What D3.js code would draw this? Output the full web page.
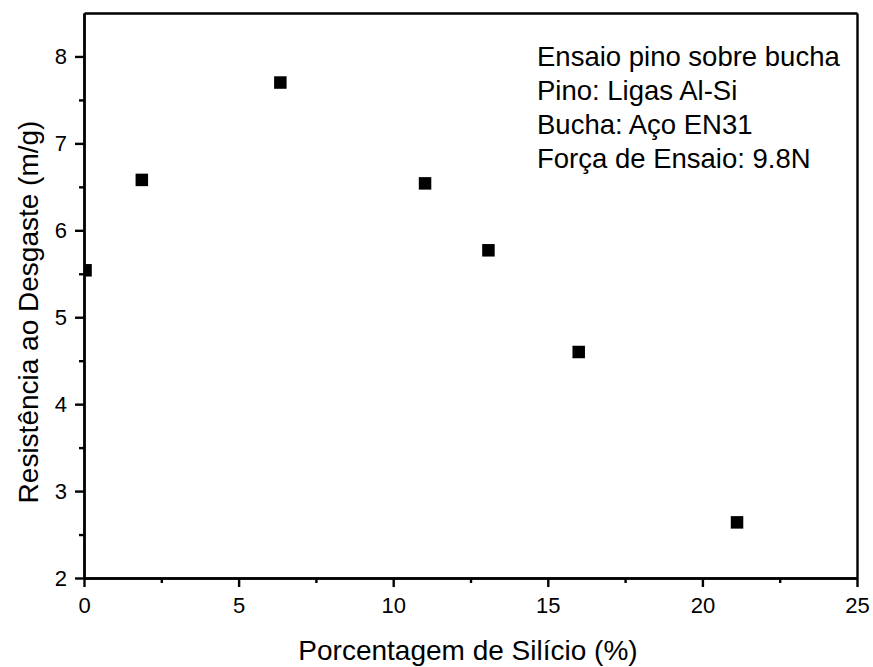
<!DOCTYPE html>
<html>
<head>
<meta charset="utf-8">
<script src="https://cdn.jsdelivr.net/npm/d3@7"></script>
<style>
  html, body { margin: 0; padding: 0; background: #fff; }
  svg { display: block; font-family: Arial, "Liberation Sans", sans-serif; }
</style>
</head>
<body>
<svg id="chart" width="873" height="667"></svg>
<script>
// Silicon content (%) of each Al-Si alloy and its measured wear resistance (m/g)
const siliconPct = [0.05, 1.87, 6.35, 11.03, 13.08, 16.0, 21.12];
const wearResistance = [5.54, 6.58, 7.70, 6.54, 5.77, 4.60, 2.64];

const xTicks = [0, 5, 10, 15, 20, 25];
const xMinorTicks = [2.5, 7.5, 12.5, 17.5, 22.5];
const yTicks = [2, 3, 4, 5, 6, 7, 8];
const yMinorTicks = [2.5, 3.5, 4.5, 5.5, 6.5, 7.5];

const noteLines = [
  "Ensaio pino sobre bucha",
  "Pino: Ligas Al-Si",
  "Bucha: Aço EN31",
  "Força de Ensaio: 9.8N"
];

const xTitle = "Porcentagem de Silício (%)";
const yTitle = "Resistência ao Desgaste (m/g)";

const svg = d3.select("#chart");
const plot = { left: 84, right: 857, top: 13, bottom: 578 };

const x = d3.scaleLinear().domain([0, 25]).range([plot.left, plot.right]);
const y = d3.scaleLinear().domain([2, 8.5]).range([plot.bottom, plot.top]);

const axisStroke = 2.4;

// clip so markers sitting on the axis are cut at the frame
svg.append("defs").append("clipPath").attr("id", "plot-clip")
  .append("rect")
  .attr("x", plot.left).attr("y", plot.top)
  .attr("width", plot.right - plot.left).attr("height", plot.bottom - plot.top);

// markers
const size = 12.5;
svg.append("g").attr("clip-path", "url(#plot-clip)")
  .selectAll("rect")
  .data(siliconPct.map((v, i) => ({ x: v, y: wearResistance[i] })))
  .join("rect")
  .attr("x", d => x(d.x) - size / 2)
  .attr("y", d => y(d.y) - size / 2)
  .attr("width", size)
  .attr("height", size)
  .attr("fill", "#000");

function styleAxis(g) {
  g.select(".domain").attr("stroke", "#000").attr("stroke-width", axisStroke);
  g.selectAll(".tick line").attr("stroke", "#000").attr("stroke-width", axisStroke);
  g.selectAll(".tick text").attr("fill", "#000");
}

// bottom axis: minor then major ticks
svg.append("g")
  .attr("transform", `translate(0,${plot.bottom})`)
  .call(d3.axisBottom(x).tickValues(xMinorTicks).tickSize(5).tickFormat("").tickSizeOuter(0))
  .call(styleAxis);
svg.append("g")
  .attr("transform", `translate(0,${plot.bottom})`)
  .call(d3.axisBottom(x).tickValues(xTicks).tickSize(9).tickPadding(10).tickFormat(d3.format("d")).tickSizeOuter(0))
  .call(styleAxis)
  .call(g => g.selectAll(".tick text").attr("font-size", 22));

// left axis
svg.append("g")
  .attr("transform", `translate(${plot.left},0)`)
  .call(d3.axisLeft(y).tickValues(yMinorTicks).tickSize(5).tickFormat("").tickSizeOuter(0))
  .call(styleAxis);
svg.append("g")
  .attr("transform", `translate(${plot.left},0)`)
  .call(d3.axisLeft(y).tickValues(yTicks).tickSize(9).tickPadding(8).tickFormat(d3.format("d")).tickSizeOuter(0))
  .call(styleAxis)
  .call(g => g.selectAll(".tick text").attr("font-size", 22));

// top and right frame lines
svg.append("g")
  .attr("transform", `translate(0,${plot.top})`)
  .call(d3.axisTop(x).tickValues([]).tickSizeOuter(0))
  .call(styleAxis);
svg.append("g")
  .attr("transform", `translate(${plot.right},0)`)
  .call(d3.axisRight(y).tickValues([]).tickSizeOuter(0))
  .call(styleAxis);

// axis titles
svg.append("text")
  .attr("x", 468)
  .attr("y", 660)
  .attr("text-anchor", "middle")
  .attr("font-size", 28)
  .attr("fill", "#000")
  .text(xTitle);

svg.append("text")
  .attr("transform", `translate(38,312) rotate(-90)`)
  .attr("text-anchor", "middle")
  .attr("font-size", 28)
  .attr("fill", "#000")
  .text(yTitle);

// test conditions note
svg.append("g")
  .selectAll("text")
  .data(noteLines)
  .join("text")
  .attr("x", 537)
  .attr("y", (d, i) => 66 + i * 34)
  .attr("font-size", 27.5)
  .attr("fill", "#000")
  .text(d => d);
</script>
</body>
</html>
